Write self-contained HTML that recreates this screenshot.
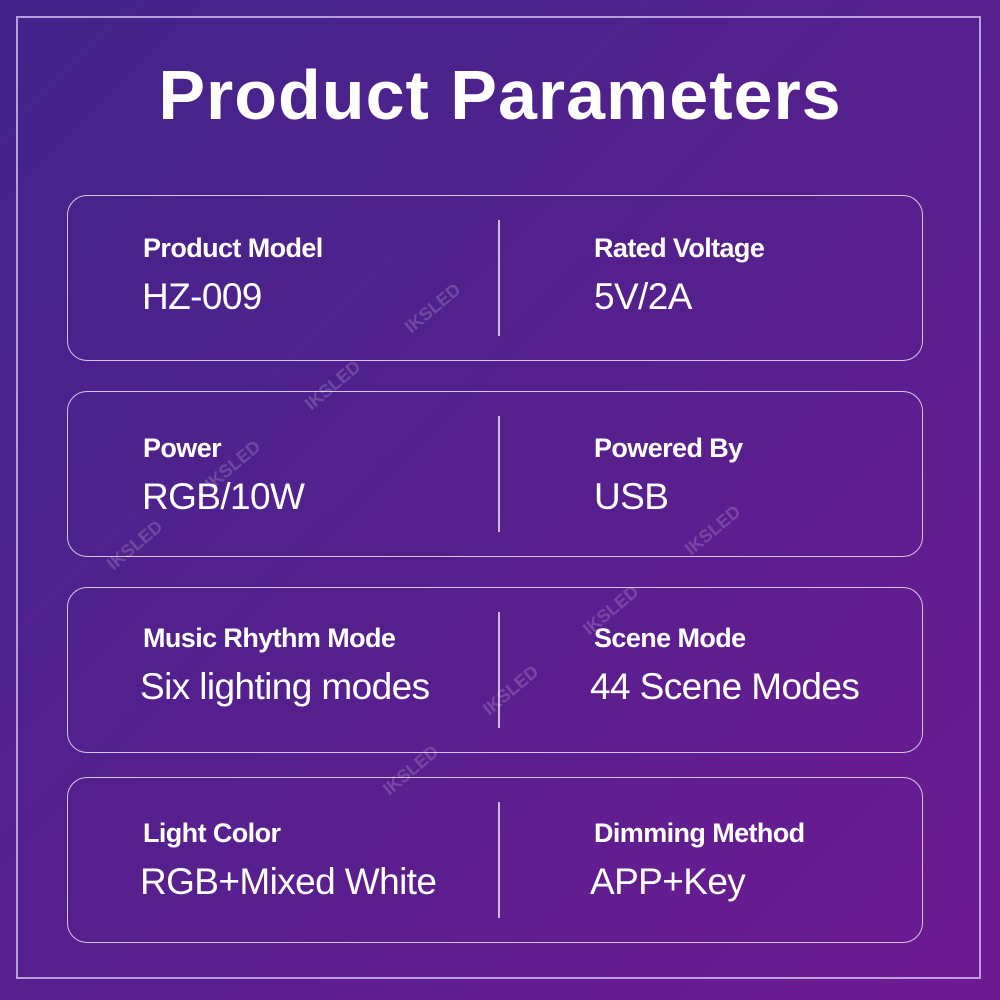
<!DOCTYPE html>
<html><head><style>
body{margin:0;width:1000px;height:1000px;overflow:hidden;background:linear-gradient(135deg,#43248a 0%,#55208e 50%,#6f1a92 100%);font-family:"Liberation Sans",sans-serif;color:#fff;position:relative}
.frame{position:absolute;left:16px;top:16px;width:965px;height:963px;border:2px solid rgba(220,200,245,.75);box-sizing:border-box}
h1{position:absolute;top:55px;left:0;width:1000px;text-align:center;margin:0;font-size:70px;font-weight:bold;letter-spacing:1px}
.card{position:absolute;left:67px;width:856px;height:166px;border:1.5px solid rgba(235,225,255,.85);border-radius:20px;box-sizing:border-box}
.div{position:absolute;left:430px;top:24px;width:1.5px;height:116px;background:rgba(235,225,255,.8)}
.l{position:absolute;font-size:27px;font-weight:bold;letter-spacing:-0.6px}
.v{position:absolute;font-size:37px;letter-spacing:-0.6px}
.wm{position:absolute;font-size:18px;font-weight:bold;color:rgba(255,255,255,.18);transform:rotate(-40deg)}
</style></head><body>
<div class="frame"></div>
<h1>Product Parameters</h1>

<div class="card" style="top:195px"><div class="div"></div>
<div class="l" style="left:75px;top:37px">Product Model</div><div class="v" style="left:74px;top:80px">HZ-009</div>
<div class="l" style="left:526px;top:37px">Rated Voltage</div><div class="v" style="left:526px;top:80px">5V/2A</div></div>

<div class="card" style="top:391px"><div class="div"></div>
<div class="l" style="left:75px;top:41px">Power</div><div class="v" style="left:74px;top:84px">RGB/10W</div>
<div class="l" style="left:526px;top:41px">Powered By</div><div class="v" style="left:526px;top:84px">USB</div></div>

<div class="card" style="top:587px"><div class="div"></div>
<div class="l" style="left:75px;top:35px">Music Rhythm Mode</div><div class="v" style="left:72px;top:78px">Six lighting modes</div>
<div class="l" style="left:526px;top:35px">Scene Mode</div><div class="v" style="left:522px;top:78px">44 Scene Modes</div></div>

<div class="card" style="top:777px"><div class="div"></div>
<div class="l" style="left:75px;top:40px">Light Color</div><div class="v" style="left:72px;top:83px">RGB+Mixed White</div>
<div class="l" style="left:526px;top:40px">Dimming Method</div><div class="v" style="left:522px;top:83px">APP+Key</div></div>

<div class="wm" style="left:400px;top:298px">IKSLED</div>
<div class="wm" style="left:300px;top:375px">IKSLED</div>
<div class="wm" style="left:200px;top:455px">IKSLED</div>
<div class="wm" style="left:102px;top:535px">IKSLED</div>
<div class="wm" style="left:680px;top:520px">IKSLED</div>
<div class="wm" style="left:578px;top:600px">IKSLED</div>
<div class="wm" style="left:478px;top:680px">IKSLED</div>
<div class="wm" style="left:378px;top:760px">IKSLED</div>
</body></html>
